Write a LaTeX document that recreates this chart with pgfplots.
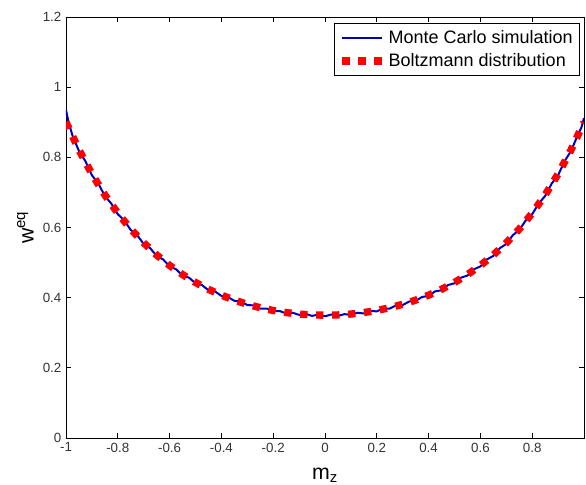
\documentclass[border=0pt]{standalone}
\usepackage{pgfplots}
\pgfplotsset{compat=1.18}
\usepackage{fontspec}
\setmainfont{Liberation Sans}

% Boltzmann distribution (red dotted)
\pgfplotstableread{
m w
-1.00 0.9005
-0.95 0.8212
-0.90 0.7525
-0.85 0.6928
-0.80 0.6408
-0.75 0.5956
-0.70 0.5561
-0.65 0.5217
-0.60 0.4918
-0.55 0.4658
-0.50 0.4433
-0.45 0.4238
-0.40 0.4071
-0.35 0.3930
-0.30 0.3811
-0.25 0.3713
-0.20 0.3635
-0.15 0.3575
-0.10 0.3533
-0.05 0.3508
0.00 0.3500
0.05 0.3508
0.10 0.3533
0.15 0.3575
0.20 0.3635
0.25 0.3713
0.30 0.3811
0.35 0.3930
0.40 0.4071
0.45 0.4238
0.50 0.4433
0.55 0.4658
0.60 0.4918
0.65 0.5217
0.70 0.5561
0.75 0.5956
0.80 0.6408
0.85 0.6928
0.90 0.7525
0.95 0.8212
1.00 0.9005
}\boltz

% Monte Carlo simulation (blue, slightly noisy)
\pgfplotstableread{
m w
-1.000 0.935
-0.990 0.900
-0.975 0.862
-0.950 0.818
-0.925 0.789
-0.900 0.749
-0.875 0.725
-0.850 0.690
-0.825 0.668
-0.800 0.638
-0.775 0.620
-0.750 0.593
-0.725 0.578
-0.700 0.553
-0.675 0.541
-0.650 0.519
-0.625 0.509
-0.600 0.489
-0.575 0.481
-0.550 0.463
-0.525 0.457
-0.500 0.441
-0.475 0.436
-0.450 0.421
-0.425 0.418
-0.400 0.405
-0.375 0.402
-0.350 0.391
-0.325 0.389
-0.300 0.379
-0.275 0.378
-0.250 0.369
-0.225 0.369
-0.200 0.361
-0.175 0.362
-0.150 0.355
-0.125 0.357
-0.100 0.351
-0.075 0.354
-0.050 0.348
-0.025 0.352
0.000 0.347
0.025 0.352
0.050 0.348
0.075 0.353
0.100 0.351
0.125 0.357
0.150 0.355
0.175 0.362
0.200 0.361
0.225 0.369
0.250 0.369
0.275 0.378
0.300 0.379
0.325 0.389
0.350 0.391
0.375 0.402
0.400 0.405
0.425 0.418
0.450 0.421
0.475 0.436
0.500 0.441
0.525 0.457
0.550 0.463
0.575 0.481
0.600 0.489
0.625 0.509
0.650 0.519
0.675 0.541
0.700 0.553
0.725 0.578
0.750 0.593
0.775 0.620
0.800 0.638
0.825 0.668
0.850 0.690
0.875 0.725
0.900 0.749
0.925 0.789
0.950 0.818
0.975 0.862
0.990 0.885
1.000 0.912
}\mc

\begin{document}
\begin{tikzpicture}
\begin{axis}[
    scale only axis,
    width=388.5pt, height=315.75pt,
    xmin=-1, xmax=1, ymin=0, ymax=1.2,
    xtick={-1,-0.8,-0.6,-0.4,-0.2,0,0.2,0.4,0.6,0.8,1},
    xticklabels={-1,-0.8,-0.6,-0.4,-0.2,0,0.2,0.4,0.6,0.8,{}},
    ytick={0,0.2,0.4,0.6,0.8,1,1.2},
    yticklabels={0,0.2,0.4,0.6,0.8,1,1.2},
    tick align=inside,
    major tick length=4pt,
    tick style={black, line width=0.6pt},
    axis line style={line width=0.6pt},
    ticklabel style={font=\fontsize{10}{12}\selectfont, text=black!80},
    xlabel={m\textsubscript{z}},
    ylabel={w\textsuperscript{eq}},
    label style={font=\fontsize{16}{18}\selectfont},
    xlabel style={yshift=-5pt},
    legend style={at={(0.992,0.985)}, anchor=north east, draw=black,
        font=\fontsize{13.5}{15}\selectfont, inner xsep=3pt, inner ysep=3pt,
        row sep=2pt, legend cell align=left, line width=0.6pt},
    legend image code/.code={\draw[#1] (0pt,0pt) -- (30pt,0pt);},
]
\coordinate (sw) at (rel axis cs:0,0);
\coordinate (ne) at (rel axis cs:1,1);
\addplot[blue!75!black, line width=1.5pt] table[x=m, y=w] {\mc};
\addlegendentry{Monte Carlo simulation}
\addplot[red, line width=5.5pt, dash pattern=on 5.5pt off 6.5pt] table[x=m, y=w] {\boltz};
\addlegendentry{Boltzmann distribution}
\end{axis}
\pgfresetboundingbox
\path[use as bounding box] ([shift={(-49.5pt,-35.25pt)}]sw) rectangle ([shift={(1.5pt,12.75pt)}]ne);
\end{tikzpicture}
\end{document}
